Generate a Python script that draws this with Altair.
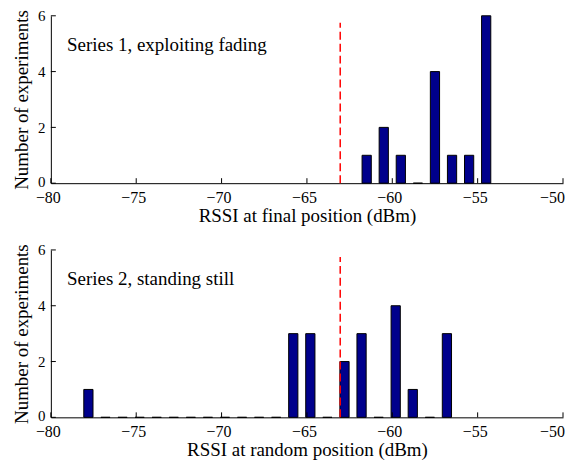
import altair as alt
import pandas as pd

# ---- data ----
s1_centers = [-61.5, -60.5, -59.5, -58.5, -57.5, -56.5, -55.5, -54.5]
s1_counts = [1, 2, 1, 0, 4, 1, 1, 6]

s2_centers = [-77.8, -76.8, -75.8, -74.8, -73.8, -72.8, -71.8, -70.8, -69.8, -68.8,
              -67.8, -66.8, -65.8, -64.8, -63.8, -62.8, -61.8, -60.8, -59.8, -58.8,
              -57.8, -56.8]
s2_counts = [1, 0, 0, 0, 0, 0, 0, 0, 0, 0,
             0, 0, 3, 3, 0, 2, 3, 0, 4, 1,
             0, 3]

threshold = [-63.05]
threshold_top = [5.75]

x_ticks = [-80, -75, -70, -65, -60, -55, -50]
y_ticks = [0, 2, 4, 6]

labels1 = ["Series 1, exploiting fading"]
labels2 = ["Series 2, standing still"]
xtitle1 = "RSSI at final position (dBm)"
xtitle2 = "RSSI at random position (dBm)"
ytitle = "Number of experiments"

# ---- styles ----
PLOT_W, PLOT_H = 514, 168
HALF_W = 0.27
NAVY = "#00008C"
FONT = "Liberation Serif"
TICK_LEN = 5


def panel(centers, counts, xtitle, label):
    df = pd.DataFrame({
        "lo": [c - HALF_W for c in centers],
        "hi": [c + HALF_W for c in centers],
        "n": counts,
    })
    xs = alt.Scale(domain=[-80, -50], nice=False, zero=False)
    ys = alt.Scale(domain=[0, 6], nice=False)
    xax = alt.Axis(values=x_ticks, title=xtitle, ticks=False, grid=False,
                   labelFlush=False, labelFontSize=16,
                   labelOffset={"condition": {"test": "datum.value == -50", "value": -11},
                                "value": -3},
                   labelPadding=6, titlePadding=1)
    yax = alt.Axis(values=y_ticks, title=ytitle, ticks=False, grid=False,
                   labelFlush=False, labelFontSize=15,
                   labelOffset={"condition": {"test": "datum.value == 0", "value": -2},
                                "value": 0},
                   labelPadding=6, titlePadding=6)

    bars = alt.Chart(df).mark_bar(color=NAVY, stroke="black", strokeWidth=1).encode(
        x=alt.X("lo:Q", scale=xs, axis=xax),
        x2="hi:Q",
        y=alt.Y("n:Q", scale=ys, axis=yax),
        y2=alt.datum(0),
    )
    tdf = pd.DataFrame({"x": threshold, "y0": [0], "y1": threshold_top})
    thr = alt.Chart(tdf).mark_rule(color="#FF0000", strokeDash=[8, 4], strokeWidth=1.5).encode(
        x=alt.X("x:Q", scale=xs, axis=xax),
        y=alt.Y("y0:Q", scale=ys, axis=yax),
        y2="y1:Q",
    )
    txt = alt.Chart(pd.DataFrame({"t": label})).mark_text(
        align="left", baseline="alphabetic", font=FONT, fontSize=19, color="black"
    ).encode(
        x=alt.datum(-79.05, scale=xs, axis=xax),
        y=alt.datum(4.75, scale=ys, axis=yax),
        text="t:N",
    )
    xt = alt.Chart(pd.DataFrame({"v": x_ticks})).mark_rule(color="black", strokeWidth=1).encode(
        x=alt.X("v:Q", scale=xs, axis=xax),
        y=alt.value(PLOT_H),
        y2=alt.value(PLOT_H - TICK_LEN),
    )
    yt = alt.Chart(pd.DataFrame({"v": y_ticks})).mark_rule(color="black", strokeWidth=1).encode(
        y=alt.Y("v:Q", scale=ys, axis=yax),
        x=alt.value(0),
        x2=alt.value(TICK_LEN),
    )
    return alt.layer(bars, thr, txt, xt, yt).properties(width=PLOT_W, height=PLOT_H)


top = panel(s1_centers, s1_counts, xtitle1, labels1)
bottom = panel(s2_centers, s2_counts, xtitle2, labels2)

chart = alt.vconcat(top, bottom, spacing=18).properties(
    padding={"left": 4, "top": 0, "right": 0, "bottom": 0}
).configure_view(strokeWidth=0).configure_axis(
    domainColor="black", domainWidth=1,
    labelColor="black", labelFont=FONT,
    titleColor="black", titleFont=FONT, titleFontSize=19, titleFontWeight="normal",
)

chart.save("out.html", embed_options={"renderer": "svg", "actions": False})
